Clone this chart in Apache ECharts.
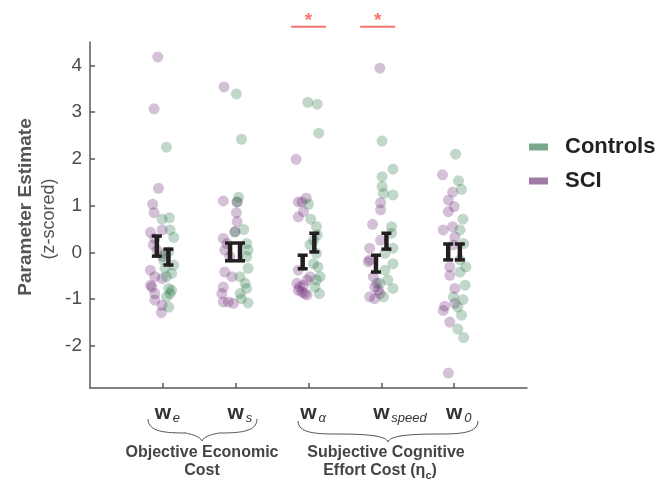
<!DOCTYPE html>
<html>
<head>
<meta charset="utf-8">
<script src="https://cdn.jsdelivr.net/npm/echarts@6/dist/echarts.min.js"></script>
<style>
  html, body { margin: 0; padding: 0; background: #fff; }
  #main { width: 666px; height: 487px; }
</style>
</head>
<body>
<div id="main"></div>
<script>
// parameter names: [main, subscript]
var paramLabels = [['w', 'e'], ['w', 's'], ['w', 'α'], ['w', 'speed'], ['w', '0']];
var yTicks = [-2, -1, 0, 1, 2, 3, 4];

// individual estimates [jittered x, z-score]
var sciPts = [
  [0.93, 4.18], [0.88, 3.07], [0.94, 1.37], [0.86, 1.03], [0.88, 0.85], [0.83, 0.43], [0.89, 0.30],
  [0.87, 0.16], [0.92, 0.05], [0.99, 0.48], [1.00, -0.09], [0.83, -0.38], [0.89, -0.52], [0.99, -0.56],
  [0.83, -0.70], [0.85, -0.74], [0.89, -0.88], [0.89, -1.02], [0.99, -1.13], [0.98, -1.29],
  [1.84, 3.54], [1.83, 1.10], [2.01, 0.85], [2.02, 0.66], [1.99, 0.44], [1.83, 0.30], [1.88, 0.19],
  [1.85, 0.05], [1.92, -0.09], [1.85, -0.42], [1.95, -0.52], [1.83, -0.74], [1.81, -0.88], [1.83, -1.06],
  [1.90, -1.06], [1.97, -1.09], [2.02, 1.08],
  [2.83, 1.99], [2.86, 1.08], [2.91, 1.08], [2.97, 1.16], [2.93, 0.87], [2.86, 0.76], [2.86, -0.38],
  [2.84, -0.66], [2.88, -0.74], [2.93, -0.70], [2.86, -0.81], [2.95, -0.88], [2.98, -0.59], [3.02, -0.52],
  [2.91, -0.85], [2.98, -0.91],
  [3.98, 3.94], [3.88, 0.60], [3.99, 0.91], [3.99, 1.06], [3.84, 0.09], [3.84, -0.16], [3.82, -0.20],
  [3.99, 0.26], [3.89, -0.52], [3.91, -0.74], [3.96, -0.81], [3.84, -0.95], [3.91, -0.99], [3.98, -0.88],
  [3.94, -0.66],
  [4.84, 1.66], [4.98, 1.29], [4.92, 1.12], [5.00, 0.98], [4.92, 0.87], [4.98, 0.55], [4.85, 0.48],
  [5.01, 0.33], [4.99, 0.16], [4.94, -0.31], [4.94, -0.49], [5.01, -0.77], [4.87, -1.15], [4.85, -1.24],
  [4.94, -1.49], [4.92, -2.58], [5.01, -1.09]
];
var ctlPts = [
  [1.05, 2.25], [0.99, 0.71], [1.09, 0.74], [1.10, 0.48], [1.15, 0.32], [1.03, -0.02], [1.08, 0.01],
  [1.15, -0.27], [1.12, -0.45], [1.03, -0.34], [1.08, -0.77], [1.10, -0.88], [1.05, -0.95], [1.12, -0.81],
  [1.08, -1.17], [1.01, -0.16], [1.05, -0.52],
  [2.01, 3.39], [2.08, 2.42], [2.04, 1.18], [2.02, 1.08], [2.11, 0.49], [2.15, 0.19], [2.17, 0.05],
  [2.15, -0.09], [2.17, -0.34], [2.06, -0.52], [2.13, -0.66], [2.15, -0.77], [2.06, -0.88], [2.17, -1.08],
  [2.08, -0.99], [1.99, 0.44],
  [2.99, 3.21], [3.12, 3.17], [3.14, 2.55], [3.00, 1.03], [3.03, 0.71], [3.11, 0.55], [3.12, 0.37],
  [3.07, 0.26], [3.02, 0.16], [3.11, -0.02], [3.07, -0.24], [3.13, -0.31], [3.16, -0.52], [3.11, -0.59],
  [3.15, -0.88], [3.09, -0.74],
  [4.01, 2.38], [4.16, 1.78], [4.01, 1.62], [4.01, 1.41], [4.03, 1.26], [4.16, 1.23], [4.14, 0.55],
  [4.14, 0.41], [4.16, 0.09], [4.05, -0.02], [4.16, -0.24], [4.05, -0.38], [4.09, -0.59], [4.16, -0.77],
  [4.03, -0.95], [3.98, -0.66],
  [5.02, 2.10], [5.06, 1.53], [5.10, 1.35], [5.12, 0.71], [5.08, 0.48], [5.13, 0.19], [5.08, -0.16],
  [5.16, -0.31], [5.08, -0.42], [5.15, -0.70], [4.99, -0.95], [5.12, -1.01], [5.05, -1.17], [5.10, -1.34],
  [5.05, -1.64], [5.13, -1.82]
];

// group means +/- SE : [x, low, high]
var sciBars = [[0.918, -0.08, 0.35], [1.923, -0.18, 0.20], [2.92, -0.35, -0.06], [3.926, -0.42, -0.06], [4.918, -0.16, 0.18]];
var ctlBars = [[1.077, -0.27, 0.07], [2.06, -0.18, 0.20], [3.08, 0.01, 0.41], [4.07, 0.07, 0.41], [5.078, -0.16, 0.18]];

// significant differences (x centre)
var sigAt = [3.0, 3.95];

var sciColor = 'rgba(100,30,110,0.35)';
var ctlColor = 'rgba(30,110,60,0.35)';

function errBar(params, api) {
  var top = api.coord([api.value(0), api.value(2)]);
  var bot = api.coord([api.value(0), api.value(1)]);
  var st = { stroke: '#231f20', lineWidth: 3.5 };
  return {
    type: 'group',
    children: [
      { type: 'line', shape: { x1: top[0], y1: top[1], x2: bot[0], y2: bot[1] }, style: { stroke: '#231f20', lineWidth: 4.5 } },
      { type: 'line', shape: { x1: top[0] - 5, y1: top[1], x2: top[0] + 5, y2: top[1] }, style: st },
      { type: 'line', shape: { x1: bot[0] - 5, y1: bot[1], x2: bot[0] + 5, y2: bot[1] }, style: st }
    ]
  };
}

var chart = echarts.init(document.getElementById('main'));
chart.setOption({
  animation: false,
  backgroundColor: '#fff',
  textStyle: { fontFamily: 'Liberation Sans, Arial, sans-serif' },
  grid: { left: 90, right: 139, top: 42, bottom: 99 },
  legend: {
    orient: 'vertical',
    left: 524,
    top: 129,
    icon: 'rect',
    itemWidth: 19,
    itemHeight: 7,
    itemGap: 8,
    selectedMode: false,
    textStyle: { fontSize: 22, fontWeight: 'bold', color: '#222', padding: [0, 0, 0, 12], lineHeight: 26 },
    data: [
      { name: 'Controls', itemStyle: { color: 'rgb(120,168,138)', opacity: 1 } },
      { name: 'SCI', itemStyle: { color: 'rgb(162,122,168)', opacity: 1 } }
    ]
  },
  xAxis: {
    type: 'value',
    min: 0,
    max: 6,
    interval: 1,
    axisLine: { onZero: false, lineStyle: { color: '#595959', width: 1.5 } },
    axisTick: { inside: true, length: 5, customValues: [1, 2, 3, 4, 5], lineStyle: { color: '#595959', width: 1.5 } },
    axisLabel: { show: false },
    splitLine: { show: false }
  },
  yAxis: {
    type: 'value',
    min: -2.9,
    max: 4.5,
    axisLine: { show: true, onZero: false, lineStyle: { color: '#595959', width: 1.5 } },
    axisTick: { show: true, inside: true, length: 5, customValues: yTicks, lineStyle: { color: '#595959', width: 1.5 } },
    axisLabel: { customValues: yTicks, fontSize: 19, color: '#4d4d4d', margin: 8 },
    splitLine: { show: false }
  },
  series: [
    {
      name: 'SCI', type: 'scatter', data: sciPts, symbolSize: 11, silent: true,
      itemStyle: { color: sciColor }
    },
    {
      name: 'Controls', type: 'scatter', data: ctlPts, symbolSize: 11, silent: true,
      itemStyle: { color: ctlColor }
    },
    {
      type: 'custom', renderItem: errBar, data: sciBars, encode: { x: 0, y: [1, 2] }, z: 5, silent: true
    },
    {
      type: 'custom', renderItem: errBar, data: ctlBars, encode: { x: 0, y: [1, 2] }, z: 5, silent: true
    }
  ]
});

// annotations placed from the axis scales
var px = function (v) { return chart.convertToPixel({ xAxisIndex: 0 }, v); };
var g = [];
paramLabels.forEach(function (p, i) {
  var cx = px(i + 1);
  g.push({ type: 'text', x: cx, y: 413.5, style: { text: p[0], font: 'bold 21px Liberation Sans, Arial', fill: '#333', textAlign: 'center', textVerticalAlign: 'middle' } });
  g.push({ type: 'text', x: cx + 10, y: 418, style: { text: p[1], font: 'italic 13px Liberation Sans, Arial', fill: '#333', textAlign: 'left', textVerticalAlign: 'middle' } });
});
sigAt.forEach(function (v) {
  var a = px(v - 0.24), b = px(v + 0.24);
  g.push({ type: 'line', shape: { x1: a, y1: 26.7, x2: b, y2: 26.7 }, style: { stroke: '#f7766b', lineWidth: 2 } });
  g.push({ type: 'text', x: (a + b) / 2, y: 21, style: { text: '*', font: 'bold 19px Liberation Sans, Arial', fill: '#f7766b', textAlign: 'center', textVerticalAlign: 'middle' } });
});
var braceStyle = { stroke: '#555', lineWidth: 1, fill: null };
function brace(x0, x1, xt, y0, ym, yt) {
  var parts = [
    { x1: x0, y1: y0, cpx1: x0, cpy1: ym - 1, cpx2: x0 + 18, cpy2: ym, x2: x0 + 38, y2: ym },
    { x1: x0 + 38, y1: ym, cpx1: xt - 18, cpy1: ym, cpx2: xt - 2, cpy2: ym + 2, x2: xt, y2: yt },
    { x1: xt, y1: yt, cpx1: xt + 2, cpy1: ym + 2, cpx2: xt + 18, cpy2: ym, x2: x1 - 38, y2: ym },
    { x1: x1 - 38, y1: ym, cpx1: x1 - 18, cpy1: ym, cpx2: x1, cpy2: ym - 1, x2: x1, y2: y0 }
  ];
  parts.forEach(function (s) { g.push({ type: 'bezierCurve', shape: s, style: braceStyle }); });
}
brace(148, 257, 202, 419, 433, 441);
brace(298, 478, 388, 421, 434, 442);
var grpFont = 'bold 16px Liberation Sans, Arial';
g.push({ type: 'text', x: 202, y: 452.5, style: { text: 'Objective Economic', font: grpFont, fill: '#444', textAlign: 'center', textVerticalAlign: 'middle' } });
g.push({ type: 'text', x: 202, y: 471, style: { text: 'Cost', font: grpFont, fill: '#444', textAlign: 'center', textVerticalAlign: 'middle' } });
g.push({ type: 'text', x: 386, y: 452.5, style: { text: 'Subjective Cognitive', font: grpFont, fill: '#444', textAlign: 'center', textVerticalAlign: 'middle' } });
g.push({ type: 'text', x: 380, y: 471, style: {
  text: '{a|Effort Cost (η}{s|c}{a|)}', textAlign: 'center', textVerticalAlign: 'middle',
  rich: {
    a: { font: grpFont, fill: '#444' },
    s: { font: 'bold 11px Liberation Sans, Arial', fill: '#444', padding: [9, 0, 0, 0] }
  }
} });
g.push({ type: 'text', x: 26, y: 207, rotation: Math.PI / 2, style: { text: 'Parameter Estimate', font: 'bold 19px Liberation Sans, Arial', fill: '#555', textAlign: 'center', textVerticalAlign: 'middle' } });
g.push({ type: 'text', x: 49, y: 219, rotation: Math.PI / 2, style: { text: '(z-scored)', font: '18px Liberation Sans, Arial', fill: '#555', textAlign: 'center', textVerticalAlign: 'middle' } });
chart.setOption({ graphic: g });
</script>
</body>
</html>
